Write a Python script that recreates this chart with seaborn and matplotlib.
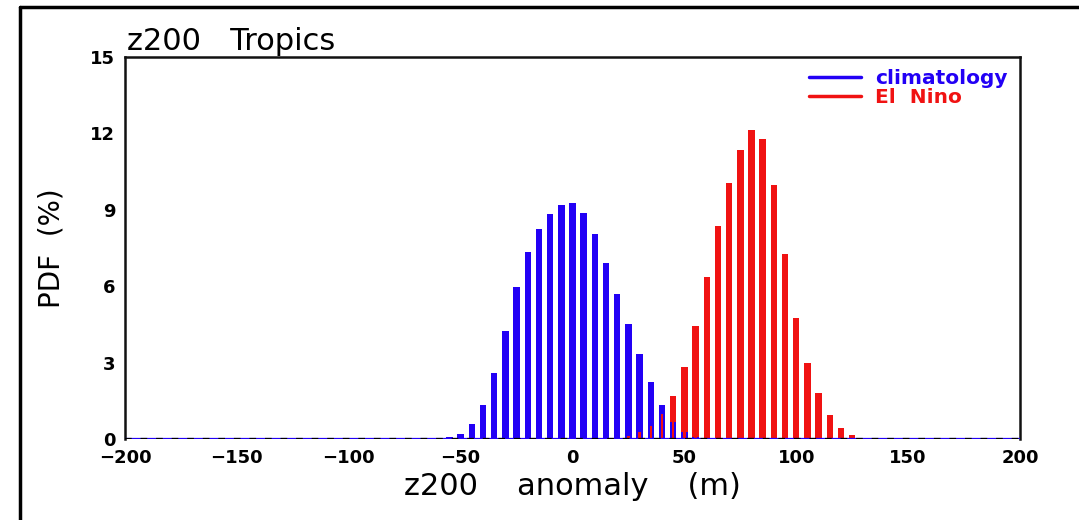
import numpy as np
import pandas as pd
import matplotlib
matplotlib.use("Agg")
import matplotlib.pyplot as plt
import seaborn as sns
from matplotlib.lines import Line2D

# ---- data (PDF in %, 5 m bins) ----
clim_bins = [-60, -55, -50, -45, -40, -35, -30, -25, -20, -15, -10, -5, 0,
             5, 10, 15, 20, 25, 30, 35, 40, 45, 50, 55, 60]
clim_pdf = [0.03, 0.07, 0.2, 0.58, 1.35, 2.59, 4.23, 5.96, 7.33, 8.24, 8.82, 9.2, 9.28,
            8.86, 8.04, 6.9, 5.69, 4.52, 3.34, 2.24, 1.32, 0.67, 0.26, 0.09, 0.03]

nino_bins = [15, 20, 25, 30, 35, 40, 45, 50, 55, 60, 65, 70, 75, 80, 85, 90,
             95, 100, 105, 110, 115, 120, 125, 130]
nino_pdf = [0.02, 0.05, 0.1, 0.26, 0.5, 0.98, 1.7, 2.83, 4.42, 6.37, 8.35, 10.05,
            11.36, 12.12, 11.79, 9.97, 7.26, 4.76, 2.98, 1.79, 0.95, 0.42, 0.15, 0.04]

x_ticks = [-200, -150, -100, -50, 0, 50, 100, 150, 200]
y_ticks = [0, 3, 6, 9, 12, 15]

BLUE = "#2200f5"
RED = "#f01212"

clim_df = pd.DataFrame({"anom": clim_bins, "pdf": clim_pdf})
nino_df = pd.DataFrame({"anom": nino_bins, "pdf": nino_pdf})

sns.set_style("white")
plt.rcParams["font.family"] = ["DejaVu Sans"]
plt.rcParams["text.color"] = "black"
plt.rcParams["axes.labelcolor"] = "black"
plt.rcParams["xtick.color"] = "black"
plt.rcParams["ytick.color"] = "black"

fig = plt.figure(figsize=(10.79, 5.20), dpi=100)
ax = fig.add_axes([125 / 1079, 81 / 520, 895 / 1079, 382 / 520])

bar_kw = dict(x="anom", y="pdf", native_scale=True, saturation=1,
              errorbar=None, ax=ax, linewidth=0)
sns.barplot(data=nino_df, width=0.58, color=RED, zorder=2, **bar_kw)
sns.barplot(data=clim_df, width=0.58, color=BLUE, zorder=3, **bar_kw)
sns.barplot(data=nino_df, width=0.22, color=RED, zorder=4, **bar_kw)

# baseline (dotted black over blue)
ax.axhline(0, color=BLUE, lw=1.6, zorder=5)
ax.axhline(0, color="black", lw=1.6, ls=(0, (3, 4)), zorder=6)

ax.set_xlim(-200, 200)
ax.set_ylim(0, 15)
ax.set_xticks(x_ticks)
ax.set_yticks(y_ticks)
ax.set_xticklabels([f"{v}".replace("-", "\u2212") for v in x_ticks],
                   fontsize=13, fontweight="bold")
ax.set_yticklabels([str(v) for v in y_ticks], fontsize=13, fontweight="bold")
ax.tick_params(axis="both", direction="out", length=5, width=1.8, color="black",
               pad=2)
for side in ["left", "right", "top"]:
    ax.spines[side].set_visible(True)
    ax.spines[side].set_color("#111111")
    ax.spines[side].set_linewidth(1.8)
ax.spines["bottom"].set_visible(False)

ax.set_xlabel("z200    anomaly    (m)", fontsize=22, labelpad=4)
ax.set_ylabel("PDF  (%)", fontsize=20, labelpad=18)

# legend
handles = [Line2D([0], [0], color=BLUE, lw=2.5),
           Line2D([0], [0], color=RED, lw=2.5)]
leg = ax.legend(handles, ["climatology", "El  Nino"], loc="upper right",
                bbox_to_anchor=(1.0, 1.0), frameon=False, handlelength=2.6,
                handletextpad=0.7, labelspacing=0.0, borderaxespad=0.2,
                prop={"weight": "bold", "size": 14.5}, labelcolor="linecolor")

# title
fig.text(127 / 1079, 1 - 50 / 520, "z200   Tropics", fontsize=22, ha="left",
         va="baseline")

# figure frame (left and top edges)
fig.add_artist(Line2D([20 / 1079, 20 / 1079], [0, 1 - 7 / 520], color="black",
                      lw=2.5, transform=fig.transFigure))
fig.add_artist(Line2D([20 / 1079, 1], [1 - 7 / 520, 1 - 7 / 520], color="black",
                      lw=2.5, transform=fig.transFigure))

fig.savefig("out.png", dpi=100)
